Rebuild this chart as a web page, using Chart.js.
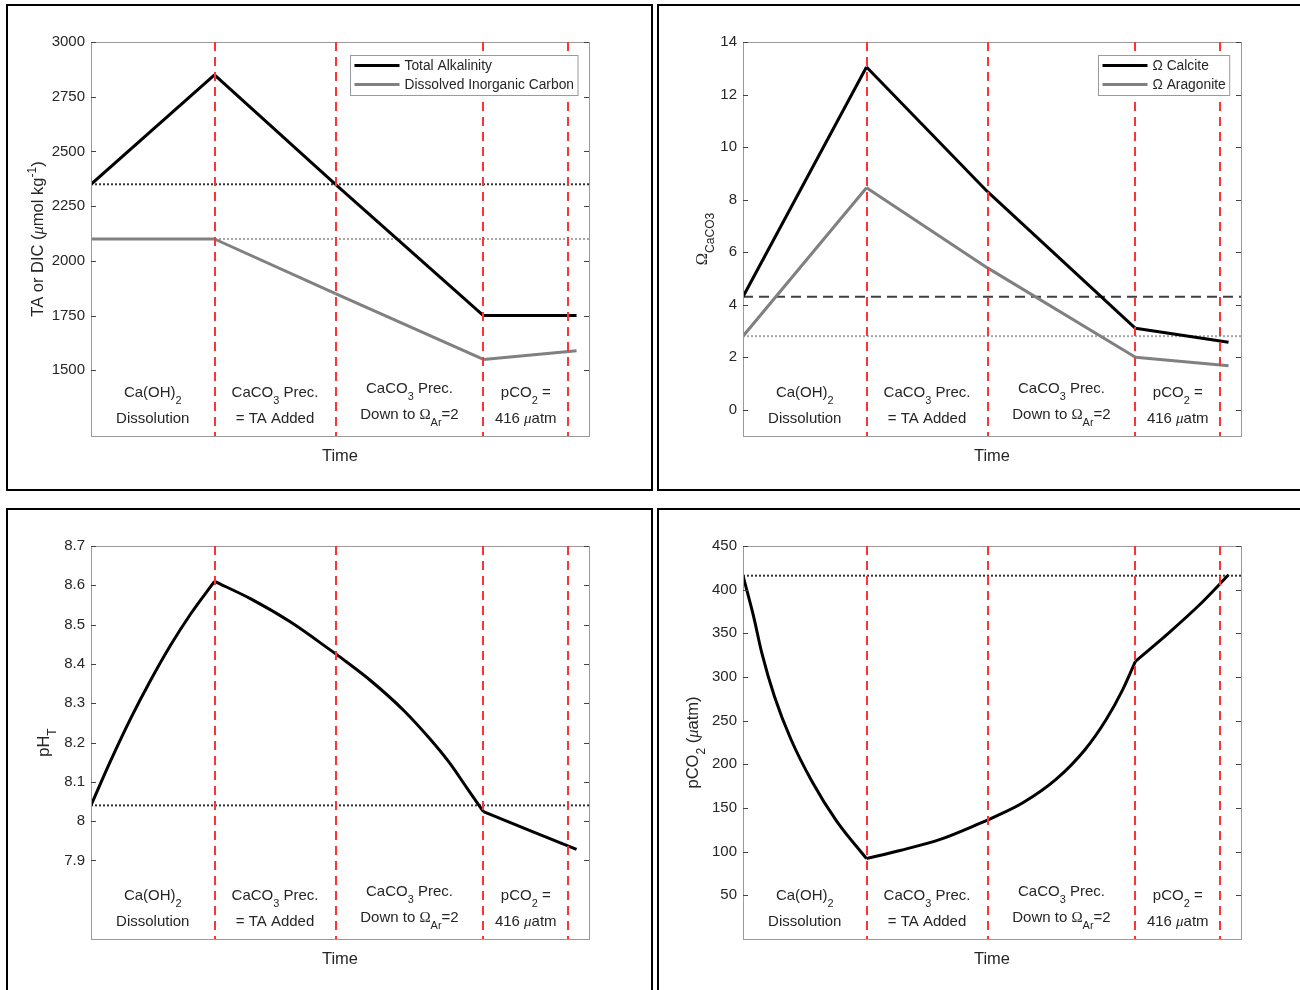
<!DOCTYPE html>
<html lang="en">
<head>
<meta charset="UTF-8">
<title>Alkalinity enhancement phases</title>
<script src="https://cdn.jsdelivr.net/npm/chart.js@4"></script>
<style>
  body { margin: 0; background: #fff; overflow: hidden; width: 1300px; height: 990px; position: relative; }
  canvas { position: absolute; }
  .frame { position: absolute; border: 2px solid #000; box-sizing: border-box; }
</style>
</head>
<body>
<div class="frame" style="left:6px;top:4px;width:647px;height:487px"></div>
<div class="frame" style="left:657px;top:4px;width:700px;height:487px"></div>
<div class="frame" style="left:6px;top:508px;width:647px;height:600px"></div>
<div class="frame" style="left:657px;top:508px;width:700px;height:600px"></div>

<canvas id="taChart" width="650" height="495" style="left:0;top:0"></canvas>
<canvas id="omegaChart" width="645" height="495" style="left:655px;top:0"></canvas>
<canvas id="phChart" width="650" height="490" style="left:0;top:500px"></canvas>
<canvas id="pco2Chart" width="645" height="490" style="left:655px;top:500px"></canvas>

<script>
// time axis runs 0-100 (arbitrary units); red dashed lines mark the phases
const phaseBounds = [24.8, 49.1, 78.8, 95.8];

// TA / DIC (umol/kg)
const taTime = [0, 24.8, 49.1, 78.8, 97.5];
const taValues = [2350, 2850, 2350, 1750, 1750];
const dicValues = [2100, 2100, 1850, 1550, 1590];
const taTicks = [1500, 1750, 2000, 2250, 2500, 2750, 3000];

// saturation states
const omegaTime = [0, 24.8, 49.1, 78.8, 97.5];
const omegaCalcite = [4.3, 13.05, 8.3, 3.1, 2.57];
const omegaAragonite = [2.8, 8.45, 5.4, 2.0, 1.67];
const omegaTicks = [0, 2, 4, 6, 8, 10, 12, 14];

// pH (total scale)
const phTime = [0, 4, 8, 12, 16, 20, 24.8, 32, 40, 49.1, 56, 63, 68, 72, 75.5, 78.8, 97.5];
const phValues = [8.04, 8.155, 8.262, 8.359, 8.448, 8.527, 8.61, 8.566, 8.507, 8.426, 8.359, 8.279, 8.21, 8.148, 8.084, 8.024, 7.928];
const phTicks = [7.9, 8, 8.1, 8.2, 8.3, 8.4, 8.5, 8.6, 8.7];

// pCO2 (uatm)
const pco2Time = [0, 2.1, 3.8, 6.3, 9.6, 13.8, 18.8, 24.8, 31.3, 39.6, 49.1, 56.2, 62.9, 68.7, 72.9, 76.2, 78.8, 85.4, 92.1, 97.5];
const pco2Values = [416, 370, 327, 278, 229, 181, 135, 92, 101, 114, 136, 156, 183, 217, 251, 285, 318, 350, 385, 417];
const pco2Ticks = [50, 100, 150, 200, 250, 300, 350, 400, 450];

const FONT = '"Liberation Sans", Arial, sans-serif';
const TEXT = '#262626';
Chart.defaults.font.family = FONT;

const phaseLabels = [
  [[{t: 'Ca(OH)'}, {t: '2', s: 'sub'}], [{t: 'Dissolution'}]],
  [[{t: 'CaCO'}, {t: '3', s: 'sub'}, {t: ' Prec.'}], [{t: '= TA Added'}]],
  [[{t: 'CaCO'}, {t: '3', s: 'sub'}, {t: ' Prec.'}], [{t: 'Down to '}, {t: 'Ω', serif: true}, {t: 'Ar', s: 'sub'}, {t: '=2'}]],
  [[{t: 'pCO'}, {t: '2', s: 'sub'}, {t: ' ='}], [{t: '416 '}, {t: 'μ', it: true, serif: true}, {t: 'atm'}]]
];
const phaseLift = [[39, 13], [39, 13], [43, 17], [39, 13]];

function runFont(r, size) {
  const s = r.s ? size * 0.73 : size;
  const fam = r.serif ? '"Liberation Serif", serif' : FONT;
  return (r.it ? 'italic ' : '') + s + 'px ' + fam;
}

function drawRich(ctx, runs, x, y, size, rot) {
  ctx.save();
  ctx.translate(x, y);
  if (rot) ctx.rotate(rot);
  let w = 0;
  runs.forEach(r => { ctx.font = runFont(r, size); w += ctx.measureText(r.t).width; });
  let cx = -w / 2;
  const base = rot ? size * 0.36 : 0;
  ctx.fillStyle = TEXT;
  ctx.textAlign = 'left';
  ctx.textBaseline = 'alphabetic';
  runs.forEach(r => {
    ctx.font = runFont(r, size);
    const dy = r.s === 'sub' ? size * 0.44 : r.s === 'sup' ? -size * 0.45 : 0;
    ctx.fillText(r.t, cx, base + dy);
    cx += ctx.measureText(r.t).width;
  });
  ctx.restore();
}

// split a curve into phase pieces so each piece can be smoothed on its own
function phasePieces(xs, ys) {
  const out = [];
  let cur = [];
  xs.forEach((x, i) => {
    cur.push({x: x, y: ys[i]});
    if (phaseBounds.includes(x) && i > 0 && i < xs.length - 1) {
      out.push(cur);
      cur = [{x: x, y: ys[i]}];
    }
  });
  out.push(cur);
  return out;
}

const decor = {
  id: 'decor',
  afterDatasetsDraw(chart, args, o) {
    const {ctx, chartArea: a, scales: {x, y}} = chart;
    ctx.save();
    // axes box
    ctx.strokeStyle = '#9a9a9a';
    ctx.lineWidth = 1;
    ctx.strokeRect(Math.round(a.left) + 0.5, Math.round(a.top) + 0.5, Math.round(a.width), Math.round(a.height));
    // inward ticks on both sides
    ctx.strokeStyle = '#444';
    o.ticks.forEach(v => {
      const py = Math.round(y.getPixelForValue(v)) + 0.5;
      ctx.beginPath();
      ctx.moveTo(a.left, py); ctx.lineTo(a.left + 5, py);
      ctx.moveTo(a.right, py); ctx.lineTo(a.right - 5, py);
      ctx.stroke();
    });
    // phase markers
    ctx.strokeStyle = '#ff3333';
    ctx.lineWidth = 2;
    ctx.setLineDash([9, 6]);
    phaseBounds.forEach(b => {
      const px = Math.round(x.getPixelForValue(b));
      ctx.beginPath();
      ctx.moveTo(px, a.top);
      ctx.lineTo(px, a.bottom);
      ctx.stroke();
    });
    ctx.setLineDash([]);
    // phase labels
    const edges = [0].concat(phaseBounds);
    phaseLabels.forEach((lines, i) => {
      const cx = x.getPixelForValue((edges[i] + edges[i + 1]) / 2);
      drawRich(ctx, lines[0], cx, a.bottom - phaseLift[i][0], 15);
      drawRich(ctx, lines[1], cx, a.bottom - phaseLift[i][1], 15);
    });
    // axis titles
    drawRich(ctx, [{t: 'Time'}], (a.left + a.right) / 2, a.bottom + 25, 16.5);
    drawRich(ctx, o.title, a.left - o.titleGap, (a.top + a.bottom) / 2, 16.5, -Math.PI / 2);
    // legend
    if (o.legend) {
      ctx.font = '13.8px ' + FONT;
      const tw = Math.max(...o.legend.map(l => ctx.measureText(l.label).width));
      const bw = 4 + 45 + 5 + tw + 4;
      const bx = Math.round(a.right - 12 - bw) + 0.5;
      const by = Math.round(a.top + 13) + 0.5;
      ctx.fillStyle = '#fff';
      ctx.fillRect(bx, by, bw, 40);
      ctx.strokeStyle = '#9a9a9a';
      ctx.lineWidth = 1;
      ctx.strokeRect(bx, by, bw, 40);
      o.legend.forEach((l, i) => {
        const ly = by + 10 + i * 19;
        ctx.strokeStyle = l.color;
        ctx.lineWidth = 3;
        ctx.beginPath();
        ctx.moveTo(bx + 4, ly); ctx.lineTo(bx + 49, ly);
        ctx.stroke();
        ctx.fillStyle = TEXT;
        ctx.textAlign = 'left';
        ctx.textBaseline = 'middle';
        ctx.font = '13.8px ' + FONT;
        ctx.fillText(l.label, bx + 54, ly + 0.5);
      });
    }
    ctx.restore();
  }
};

function makePanel(id, p) {
  const datasets = [];
  p.series.forEach(s => {
    phasePieces(s.xs, s.ys).forEach(piece => {
      datasets.push({
        data: piece,
        borderColor: s.color,
        borderWidth: 3,
        pointRadius: 0,
        cubicInterpolationMode: s.smooth ? 'monotone' : 'default',
        tension: 0,
        order: 0
      });
    });
  });
  p.refs.forEach(r => {
    datasets.push({
      data: [{x: 0, y: r.y}, {x: 100, y: r.y}],
      borderColor: r.color,
      borderWidth: 2,
      borderDash: r.dash,
      pointRadius: 0,
      order: 1
    });
  });
  new Chart(document.getElementById(id), {
    type: 'line',
    data: {datasets: datasets},
    options: {
      responsive: false,
      animation: false,
      layout: {padding: p.pad},
      plugins: {
        legend: {display: false},
        tooltip: {enabled: false},
        decor: {ticks: p.ticks, title: p.title, titleGap: p.titleGap, legend: p.legend}
      },
      scales: {
        x: {type: 'linear', min: 0, max: 100, display: false},
        y: {
          min: p.min, max: p.max,
          afterBuildTicks: sc => { sc.ticks = p.ticks.map(v => ({value: v})); },
          afterFit: sc => { sc.width = p.yWidth; },
          grid: {display: false, drawTicks: false},
          border: {display: false},
          ticks: {color: TEXT, padding: 6, font: {size: 15}, callback: v => String(v)}
        }
      }
    },
    plugins: [decor]
  });
}

makePanel('taChart', {
  min: 1200, max: 3000, ticks: taTicks, yWidth: 91,
  pad: {left: 0, top: 42, right: 61, bottom: 59},
  series: [
    {xs: taTime, ys: taValues, color: '#000'},
    {xs: taTime, ys: dicValues, color: '#808080'}
  ],
  refs: [
    {y: taValues[0], color: '#333', dash: [2, 2]},
    {y: dicValues[0], color: '#a6a6a6', dash: [2, 2]}
  ],
  title: [{t: 'TA or DIC ('}, {t: 'μ', it: true, serif: true}, {t: 'mol kg'}, {t: '-1', s: 'sup'}, {t: ')'}],
  titleGap: 54,
  legend: [{label: 'Total Alkalinity', color: '#000'}, {label: 'Dissolved Inorganic Carbon', color: '#808080'}]
});

makePanel('omegaChart', {
  min: -1, max: 14, ticks: omegaTicks, yWidth: 88,
  pad: {left: 0, top: 42, right: 59, bottom: 59},
  series: [
    {xs: omegaTime, ys: omegaCalcite, color: '#000'},
    {xs: omegaTime, ys: omegaAragonite, color: '#808080'}
  ],
  refs: [
    {y: omegaCalcite[0], color: '#404040', dash: [10, 6]},
    {y: omegaAragonite[0], color: '#a6a6a6', dash: [2, 2]}
  ],
  title: [{t: 'Ω', serif: true}, {t: 'CaCO3', s: 'sub'}],
  titleGap: 42,
  legend: [{label: 'Ω Calcite', color: '#000'}, {label: 'Ω Aragonite', color: '#808080'}]
});

makePanel('phChart', {
  min: 7.7, max: 8.7, ticks: phTicks, yWidth: 91,
  pad: {left: 0, top: 46, right: 61, bottom: 51},
  series: [{xs: phTime, ys: phValues, color: '#000', smooth: true}],
  refs: [{y: phValues[0], color: '#333', dash: [2, 2]}],
  title: [{t: 'pH'}, {t: 'T', s: 'sub'}],
  titleGap: 48
});

makePanel('pco2Chart', {
  min: 0, max: 450, ticks: pco2Ticks, yWidth: 88,
  pad: {left: 0, top: 46, right: 59, bottom: 51},
  series: [{xs: pco2Time, ys: pco2Values, color: '#000', smooth: true}],
  refs: [{y: 416, color: '#333', dash: [2, 2]}],
  title: [{t: 'pCO'}, {t: '2', s: 'sub'}, {t: ' ('}, {t: 'μ', it: true, serif: true}, {t: 'atm)'}],
  titleGap: 51
});
</script>
</body>
</html>
